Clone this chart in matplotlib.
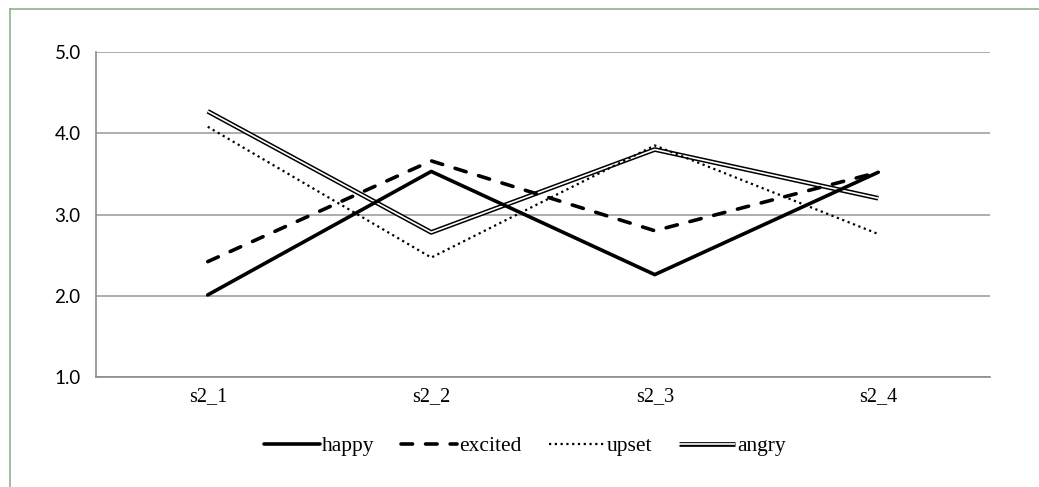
import matplotlib
matplotlib.use("Agg")
import matplotlib.pyplot as plt
import matplotlib.patheffects as pe
from matplotlib.lines import Line2D

# data
categories = ["s2_1", "s2_2", "s2_3", "s2_4"]
happy = [2.01, 3.53, 2.26, 3.52]
excited = [2.42, 3.66, 2.80, 3.52]
upset = [4.08, 2.47, 3.85, 2.76]
angry = [4.27, 2.78, 3.80, 3.20]
yticks = [1.0, 2.0, 3.0, 4.0, 5.0]

fig = plt.figure(figsize=(10.39, 4.87), dpi=100)
ax = fig.add_axes([96 / 1039, 1 - 377 / 487, 894 / 1039, 325 / 487])

x = list(range(len(categories)))

ax.plot(x, happy, color="black", lw=2.6, solid_capstyle="round",
        label="happy", zorder=5)
ax.plot(x, excited, color="black", lw=2.6, dashes=(3.2, 3.6),
        dash_capstyle="round", label="excited", zorder=5)
ax.plot(x, upset, color="black", lw=1.6, dashes=(1, 1.6),
        label="upset", zorder=4)
# double line: white core with black outline
ax.plot(x, angry, color="white", lw=1.2, solid_capstyle="butt", label="angry",
        path_effects=[pe.Stroke(linewidth=3.4, foreground="black"), pe.Normal()],
        zorder=3)

ax.set_xlim(-0.5, len(categories) - 0.5)
ax.set_ylim(1.0, 5.0)
ax.set_yticks(yticks)
ax.set_yticklabels(["%.1f" % v for v in yticks], fontfamily="Lato", fontsize=13.5)
ax.set_xticks(x)
ax.set_xticklabels(categories, fontfamily="Liberation Serif", fontsize=14.5)
ax.tick_params(axis="both", length=0, colors="black")
ax.tick_params(axis="y", pad=11)
ax.tick_params(axis="x", pad=7)

ax.grid(axis="y", color="#a0a0a0", lw=1.2)
ax.set_axisbelow(True)
for s in ["top", "right"]:
    ax.spines[s].set_visible(False)
for s in ["left", "bottom"]:
    ax.spines[s].set_color("#8c8c8c")
    ax.spines[s].set_linewidth(1.2)

leg = fig.legend(loc="center", bbox_to_anchor=(525 / 1039, 1 - 446 / 487),
                 ncol=4, frameon=False, handlelength=2.6, handletextpad=0.1,
                 columnspacing=1.25,
                 prop={"family": "Liberation Serif", "size": 15.5})

# outer chart frame (left and top only visible)
fig.add_artist(Line2D([10 / 1039, 10 / 1039], [0, 1 - 9 / 487],
                      transform=fig.transFigure, color="#8db48d", lw=1.2))
fig.add_artist(Line2D([10 / 1039, 1], [1 - 9 / 487, 1 - 9 / 487],
                      transform=fig.transFigure, color="#8db48d", lw=1.2))

fig.savefig("out.png", dpi=100)
